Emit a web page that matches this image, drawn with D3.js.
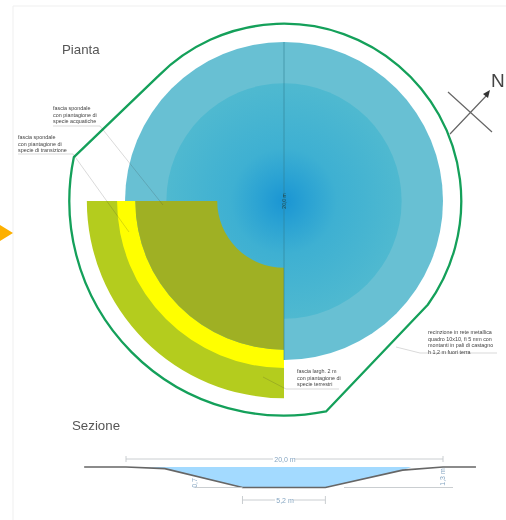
<!DOCTYPE html>
<html><head><meta charset="utf-8">
<script src="https://cdn.jsdelivr.net/npm/d3@7/dist/d3.min.js"></script>
<style>html,body{margin:0;padding:0;background:#fff}svg{display:block;filter:blur(.7px)}text{font-family:"Liberation Sans",Arial,sans-serif}</style>
</head><body><svg id="c" width="506" height="520"></svg>
<script>
// radii in metres
const bandNames = ["acqua esterna","acqua interna"];
const waterRadii = [10, 7.4];
const wedgeBands = [[9.35,12.4,"#b4cc1e"],[9.35,10.5,"#ffff00"],[4.2,9.35,"#9fb024"]];
// fence: arcs [startDeg, endDeg, radius m], clockwise from north
const fenceArcs = [[314.8,485.8,11.15],[168.7,281.8,13.5]];
// section profile: [metres from bank, depth m]
const profileX = [-2.64,0,2.45,7.35,12.58,17.45,20,22.08];
const profileD = [0,0,.1,1.3,1.3,.2,0,0];
const waterX = [1.3,2.45,7.35,12.58,17.45,18];
const waterD = [0,.1,1.3,1.3,.2,0];
const planLabels = [
 {x:53,y:110,lines:["fascia spondale","con piantagione di","specie acquatiche"],lead:[[53,126],[100,126],[163,205]]},
 {x:18,y:139,lines:["fascia spondale","con piantagione di","specie di transizione"],lead:[[18,154],[73,154],[129,232]]},
 {x:428,y:334,lines:["recinzione in rete metallica","quadro 10x10, fi 5 mm con","montanti in pali di castagno","h 1,2 m fuori terra"],lead:[[497,353],[420,353],[396,347]]},
 {x:297,y:373,lines:["fascia largh. 2 m","con piantagione di","specie terrestri"],lead:[[339,389],[286,389],[263,377]]}
];
const titles = [["Pianta",62,54],["Sezione",72,430]];

const svg = d3.select("#c");
const defs = svg.append("defs");
const g0 = defs.append("radialGradient").attr("id","core");
[[0,"#1a95d3"],[.2,"#2aa2d3"],[.45,"#3eb0d2"],[1,"#4fb9d0"]].forEach(s=>g0.append("stop").attr("offset",s[0]).attr("stop-color",s[1]));

// frame + marker
svg.append("path").attr("d","M13,520V6H506").attr("fill","none").attr("stroke","#efefef");
svg.append("path").attr("d","M0,225L13,233L0,241Z").attr("fill","#fdb000");

const R = d3.scaleLinear().domain([0,10]).range([0,159]);
const plan = svg.append("g").attr("transform","translate(284,201)");
plan.selectAll("circle.w").data(waterRadii).join("circle").attr("class","w")
 .attr("r",d=>R(d)).attr("fill",(d,i)=>i?"url(#core)":"#68c0d3");
const arc = d3.arc();
plan.selectAll("path.b").data(wedgeBands).join("path").attr("class","b")
 .attr("d",d=>arc({innerRadius:R(d[0]),outerRadius:R(d[1]),startAngle:Math.PI,endAngle:1.5*Math.PI}))
 .attr("fill",d=>d[2]);
plan.append("line").attr("y1",-R(10)).attr("y2",R(10)).attr("stroke","#2f7f96").attr("stroke-width",.6);
plan.append("text").attr("transform","rotate(-90)").attr("text-anchor","middle").attr("y",2).attr("font-size",5).attr("fill","#244").text("20,0 m");

// fence
const fp = d3.path();
const rad = d=>(d-90)*Math.PI/180;
fenceArcs.forEach((a,i)=>{
  const r=R(a[2]);
  const sx=r*Math.cos(rad(a[0])), sy=r*Math.sin(rad(a[0]));
  if(i===0) fp.moveTo(sx,sy); else fp.lineTo(sx,sy);
  fp.arc(0,0,r,rad(a[0]),rad(a[1]));
});
fp.closePath();
plan.append("path").attr("d",fp.toString()).attr("fill","none").attr("stroke","#14a05a").attr("stroke-width",2.3).attr("stroke-linejoin","round");

// annotations
const ln = d3.line();
planLabels.forEach(L=>{
  svg.append("path").attr("d",ln(L.lead)).attr("fill","none").attr("stroke","#333").attr("stroke-opacity",.3).attr("stroke-width",.6);
  const t=svg.append("text").attr("font-size",5.4).attr("fill","#444");
  L.lines.forEach((s,i)=>t.append("tspan").attr("x",L.x).attr("y",L.y+i*6.5).text(s));
});
svg.selectAll("text.t").data(titles).join("text").attr("class","t")
 .attr("x",d=>d[1]).attr("y",d=>d[2]).attr("font-size",13.3).attr("fill","#555").text(d=>d[0]);

// north
svg.append("path").attr("d","M448,92L492,132M450,134L487,95").attr("stroke","#666").attr("stroke-width",1.2).attr("fill","none");
svg.append("path").attr("d","M490,90L483,94L488,98Z").attr("fill","#333");
svg.append("text").attr("x",491).attr("y",87).attr("font-size",19).attr("fill","#444").text("N");

// section
const X = d3.scaleLinear().domain([0,20]).range([126,443]);
const Y = d3.scaleLinear().domain([0,1.3]).range([467,487.5]);
const pts=(xs,ds)=>xs.map((x,i)=>[X(x),Y(ds[i])]);
svg.append("path").attr("d",ln(pts(waterX,waterD))+"Z").attr("fill","#a3daff");
svg.append("path").attr("d",ln(pts(profileX,profileD))).attr("fill","none").attr("stroke","#666").attr("stroke-width",1.7);
const dim="#c4c8cc", dimText="#86a6c2";
const seg=(a,b,c,d)=>svg.append("line").attr("x1",a).attr("y1",b).attr("x2",c).attr("y2",d).attr("stroke",dim).attr("stroke-width",.9);
seg(X(0),459,X(20),459);seg(X(0),456,X(0),462);seg(X(20),456,X(20),462);
seg(X(7.35),500,X(12.58),500);seg(X(7.35),496,X(7.35),504);seg(X(12.58),496,X(12.58),504);
seg(195,Y(1.3),X(7.35),Y(1.3));seg(344,Y(1.3),453,Y(1.3));
const lab=(x,y,s,r)=>{
 const t=svg.append("text").attr("text-anchor","middle").attr("font-size",7).attr("fill",dimText).text(s);
 t.attr("transform",`translate(${x},${y})`+(r?" rotate(-90)":""));
};
const bg=(x,y,w,h)=>svg.append("rect").attr("x",x).attr("y",y).attr("width",w).attr("height",h).attr("fill","#fff");
bg(273,456,22,6);bg(275,497,18,6);
lab(285,461.5,"20,0 m");lab(285,503,"5,2 m");
lab(197,483,"0,7",true);lab(445,477,"1,3 m",true);
</script></body></html>
